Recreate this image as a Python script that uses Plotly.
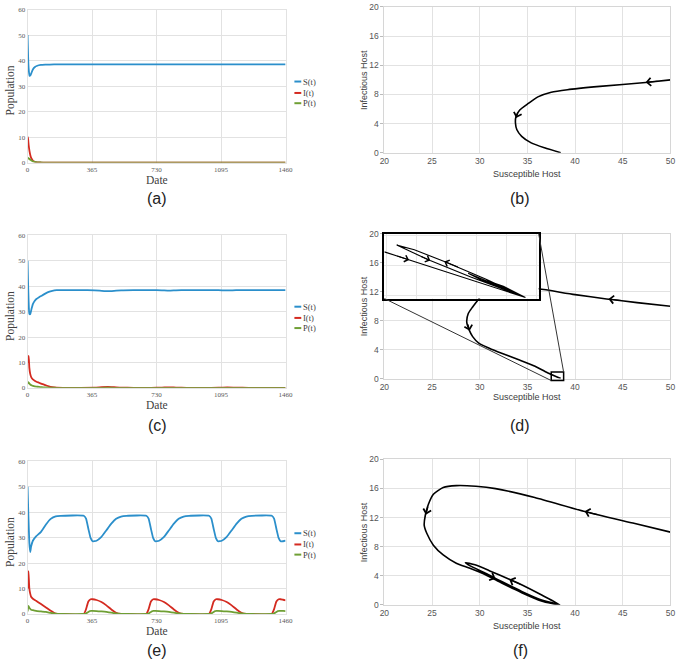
import plotly.graph_objects as go

W, H = 685, 665

# ---------------- data ----------------
series_names = ["S(t)", "I(t)", "P(t)"]
series_colors = ["#2b8fcb", "#d42a20", "#6f9f34"]
day_ticks = [0, 365, 730, 1095, 1460]

# (a)
t_a = [0, 3, 6, 11, 16, 22, 30, 40, 55, 75, 100, 150, 250, 1460]
S_a = [50, 42, 37, 34, 34.2, 35.2, 36.5, 37.4, 38.0, 38.3, 38.4, 38.5, 38.5, 38.5]
I_a = [10.2, 9.3, 7, 4.5, 2.8, 1.6, 0.8, 0.35, 0.1, 0.03, 0, 0, 0, 0]
P_a = [1.3, 1.8, 1.7, 1.4, 1.1, 0.8, 0.5, 0.3, 0.12, 0.04, 0, 0, 0, 0]

# (c)
t_c = [0, 3, 6, 10, 15, 22, 30, 40, 50, 65, 80, 100, 120, 140, 165, 200, 300, 380, 420, 455,
       490, 530, 600, 700, 760, 800, 840, 900, 1000, 1080, 1130, 1180, 1250, 1460]
S_c = [50, 41, 34, 29.2, 29, 31, 33, 34.2, 35, 35.7, 36.3, 37.1, 37.8, 38.2, 38.45, 38.5, 38.5, 38.4, 38.2, 38.05,
       38.2, 38.4, 38.5, 38.5, 38.4, 38.3, 38.4, 38.5, 38.5, 38.45, 38.35, 38.45, 38.5, 38.5]
I_c = [9.8, 12, 12.6, 8, 5.5, 4.0, 3.3, 2.8, 2.4, 2.0, 1.6, 1.1, 0.6, 0.3, 0.1, 0.02, 0, 0.05, 0.25, 0.35,
       0.25, 0.08, 0, 0, 0.1, 0.22, 0.12, 0.02, 0, 0.05, 0.15, 0.08, 0, 0]
P_c = [1.5, 2.2, 2.1, 1.7, 1.3, 1.0, 0.8, 0.6, 0.5, 0.38, 0.28, 0.18, 0.1, 0.05, 0.02, 0, 0, 0, 0.03, 0.05,
       0.03, 0, 0, 0, 0, 0.03, 0, 0, 0, 0, 0.02, 0, 0, 0]

# (e)
t_e = [0, 5, 10, 15, 20, 30, 48, 76, 104, 131, 159, 187,
       318, 331, 344, 357, 368, 390, 418, 446, 474, 501, 529, 560,
       672, 685, 698, 711, 722, 744, 772, 800, 828, 855, 883, 914,
       1027, 1040, 1053, 1066, 1077, 1099, 1127, 1155, 1183, 1210, 1238, 1269,
       1382, 1395, 1408, 1421, 1432, 1446, 1460]
S_e = [50, 38, 28, 24.3, 26.5, 28.8, 30.5, 32.3, 35.2, 37.4, 38.4, 38.6,
       38.6, 37.5, 33.5, 29.8, 28.6, 28.8, 30.3, 32.9, 35.5, 37.4, 38.3, 38.6,
       38.6, 37.5, 33.5, 29.8, 28.6, 28.8, 30.3, 32.9, 35.5, 37.4, 38.3, 38.6,
       38.6, 37.5, 33.5, 29.8, 28.6, 28.8, 30.3, 32.9, 35.5, 37.4, 38.3, 38.6,
       38.6, 37.5, 33.5, 29.8, 28.6, 28.6, 28.8]
I_e = [10, 16.8, 10, 8, 6.8, 6.0, 5.2, 3.9, 2.6, 1.3, 0.2, 0,
       0, 1.9, 4.9, 5.8, 5.8, 5.5, 4.7, 3.4, 1.8, 0.5, 0, 0,
       0, 1.9, 4.9, 5.8, 5.8, 5.5, 4.7, 3.4, 1.8, 0.5, 0, 0,
       0, 1.9, 4.9, 5.8, 5.8, 5.5, 4.7, 3.4, 1.8, 0.5, 0, 0,
       0, 1.9, 4.9, 5.8, 5.8, 5.6, 5.4]
P_e = [1.0, 3.2, 2.5, 2.0, 1.7, 1.5, 1.2, 1.0, 0.8, 0.45, 0.15, 0,
       0, 0.2, 0.8, 1.2, 1.2, 1.15, 1.0, 0.8, 0.5, 0.25, 0.08, 0,
       0, 0.2, 0.8, 1.2, 1.2, 1.15, 1.0, 0.8, 0.5, 0.25, 0.08, 0,
       0, 0.2, 0.8, 1.2, 1.2, 1.15, 1.0, 0.8, 0.5, 0.25, 0.08, 0,
       0, 0.2, 0.8, 1.2, 1.2, 1.2, 1.15]

# (b) phase portrait
S_b = [50, 47.4, 42.6, 39.2, 37.5, 36.1, 35.1, 34.2, 33.8, 33.75, 33.9, 34.4, 35.4, 36.8, 38.5]
I_b = [10, 9.64, 9.1, 8.65, 8.3, 7.66, 6.76, 5.86, 4.95, 4.05, 3.15, 2.25, 1.35, 0.68, 0]
arrows_b = [((48.8, 9.83), (47.4, 9.66)), ((34.05, 5.7), (33.82, 4.75))]

# (d) phase portrait
S_d = [50, 46.5, 43.3, 40, 36.2, 33.5, 31.5, 30.5, 29.9, 29.26, 28.8, 28.64, 28.9, 29.26, 29.9, 31,
       32.3, 34.1, 35.8, 37.1, 38.5]
I_d = [10, 10.5, 11.0, 11.6, 12.4, 12.8, 12.7, 12.0, 11.0, 9.9, 9.0, 7.8, 6.7, 5.8, 4.9, 4.2,
       3.5, 2.6, 1.7, 0.8, 0]
arrows_d = [((45.0, 10.76), (43.5, 11.0)), ((28.72, 7.7), (28.95, 6.6))]

# (d) inset: magnified approach to the equilibrium
S_in = [36.85, 37.4, 37.9, 38.45, 38.01, 37.53, 37.19, 36.99, 37.19, 37.37, 37.83, 38.2, 38.45,
        38.1, 37.8, 37.95, 38.2, 38.45, 38.2, 38.01, 38.12, 38.3, 38.45, 38.3, 38.23, 38.33, 38.45]
I_in = [0.444, 0.292, 0.153, 0.0, 0.175, 0.35, 0.465, 0.51, 0.43, 0.36, 0.2, 0.085, 0.0,
        0.13, 0.235, 0.17, 0.09, 0.0, 0.11, 0.165, 0.115, 0.045, 0.0, 0.065, 0.09, 0.05, 0.0]
arrows_in = [((36.98, 0.408), (37.13, 0.366)), ((37.25, 0.405), (37.37, 0.36)),
             ((37.7, 0.29), (37.53, 0.35))]
zoom_box = (37.5, 38.8, -0.27, 0.9)

# (f) phase portrait
S_f = [50, 46.06, 40.9, 35.77, 31.66, 29.6, 27.54, 26.17, 25.14, 24.63, 24.29, 24.18, 24.46, 25.14,
       26.17, 27.54, 28.9, 30.6, 32.3, 34.4, 36.46, 38.4,
       36.5, 34.5, 33.03, 31.0, 29.5, 28.5, 29.0, 30.6, 32.3, 34.4, 36.5, 38.4]
I_f = [10, 11.24, 12.87, 14.76, 15.98, 16.3, 16.39, 16.12, 15.2, 13.86, 12.28, 10.93, 9.8, 8.2,
       6.86, 5.73, 5.06, 4.15, 3.0, 1.67, 0.54, 0,
       1.35, 2.7, 3.55, 4.7, 5.5, 5.8, 5.35, 4.35, 3.2, 1.85, 0.65, 0]
arrows_f = [((42.5, 12.35), (41.0, 12.85)), ((24.62, 13.7), (24.35, 12.4)),
            ((30.6, 4.2), (31.66, 3.6)), ((34.4, 2.75), (33.1, 3.5))]

# ---------------- layout helpers ----------------
def px(x):
    return x / W

def py(y):
    return 1 - y / H

TS_X = (23, 286)
PH_X = (386.7, 678.3)
INSET_X = (386.7, 544)
INSET_Y = (232.3, 298)

SERIF = "Liberation Serif, Times New Roman, serif"
SANS_N = "Liberation Sans Narrow, Liberation Sans, Arial, sans-serif"
SANS = "Liberation Sans, Arial, sans-serif"

fig = go.Figure()
layout = dict(width=W, height=H, margin=dict(l=0, r=0, t=0, b=0),
              paper_bgcolor="white", plot_bgcolor="white", showlegend=False)
annotations = []
shapes = []

grid_c = "#e2e2e2"

ts_panels = [
    (1, t_a, S_a, I_a, P_a, (4.7, 160), [77.7, 89.3, 99.7], "(a)", 196),
    (3, t_c, S_c, I_c, P_c, (234, 388.7), [306.3, 317.7, 328], "(c)", 427),
    (5, t_e, S_e, I_e, P_e, (463.3, 618.3), [536.3, 547.7, 558], "(e)", 655),
]
for idx, t, S, I, P, (ytop, ybot), leg_y, lab, lab_y in ts_panels:
    xa = "x" if idx == 1 else f"x{idx}"
    ya = "y" if idx == 1 else f"y{idx}"
    for vals, name, col in zip([S, I, P], series_names, series_colors):
        fig.add_trace(go.Scatter(x=t, y=vals, mode="lines", name=name, xaxis=xa, yaxis=ya,
                                 line=dict(color=col, width=1.8), line_shape="spline",
                                 line_smoothing=0.4))
    kx = "xaxis" if idx == 1 else f"xaxis{idx}"
    ky = "yaxis" if idx == 1 else f"yaxis{idx}"
    layout[kx] = dict(domain=[px(TS_X[0]), px(TS_X[1])], anchor=ya, range=[0, 1460],
                      tickvals=day_ticks, showgrid=True, gridcolor=grid_c, zeroline=False,
                      showline=True, mirror=True, linecolor=grid_c, ticks="",
                      tickfont=dict(family=SERIF, size=7, color="#595959"))
    layout[ky] = dict(domain=[py(ybot), py(ytop)], anchor=xa, range=[0, 60], dtick=10,
                      showgrid=True, gridcolor=grid_c, zeroline=False,
                      showline=True, mirror=True, linecolor=grid_c, ticks="",
                      tickfont=dict(family=SERIF, size=7, color="#595959"))
    # legend
    for yy, name, col in zip(leg_y, series_names, series_colors):
        shapes.append(dict(type="line", xref="paper", yref="paper", x0=px(295), x1=px(302),
                           y0=py(yy), y1=py(yy), line=dict(color=col, width=2)))
        annotations.append(dict(xref="paper", yref="paper", x=px(302), y=py(yy), text=name,
                                showarrow=False, xanchor="left", yanchor="middle",
                                font=dict(family=SERIF, size=8.5, color="#404040")))
    # axis titles
    annotations.append(dict(xref="paper", yref="paper", x=px((TS_X[0] + TS_X[1]) / 2),
                            y=py(ybot + 17.5), text="Date", showarrow=False,
                            xanchor="center", yanchor="middle",
                            font=dict(family=SERIF, size=11.5, color="#404040")))
    annotations.append(dict(xref="paper", yref="paper", x=px(5.5), y=py((ytop + ybot) / 2 + 4),
                            text="Population", showarrow=False, textangle=-90,
                            xanchor="center", yanchor="middle",
                            font=dict(family=SERIF, size=11.5, color="#404040")))
    annotations.append(dict(xref="paper", yref="paper", x=px(155), y=py(lab_y), text=lab,
                            showarrow=False, xanchor="center", yanchor="middle",
                            font=dict(family=SANS, size=16, color="#222222")))

ph_panels = [
    (2, S_b, I_b, arrows_b, (2, 150), "(b)", 196, 172),
    (4, S_d, I_d, arrows_d, (232.3, 379.3), "(d)", 427, 398),
    (6, S_f, I_f, arrows_f, (461.3, 609), "(f)", 655, 630),
]
for idx, S, I, arrows, (ytop, ybot), lab, lab_y, title_y in ph_panels:
    xa, ya = f"x{idx}", f"y{idx}"
    fig.add_trace(go.Scatter(x=S, y=I, mode="lines", xaxis=xa, yaxis=ya,
                             line=dict(color="black", width=1.6), line_shape="spline",
                             line_smoothing=0.6))
    layout[f"xaxis{idx}"] = dict(domain=[px(PH_X[0]), px(PH_X[1])], anchor=ya, range=[20, 50],
                                 dtick=5, showgrid=True, gridcolor=grid_c, zeroline=False,
                                 showline=True, mirror=True, linecolor="#d6d6d6", ticks="",
                                 tickfont=dict(family=SANS_N, size=8.5, color="#555555"))
    layout[f"yaxis{idx}"] = dict(domain=[py(ybot), py(ytop)], anchor=xa, range=[0, 20],
                                 dtick=4, showgrid=True, gridcolor=grid_c, zeroline=False,
                                 showline=True, mirror=True, linecolor="#d6d6d6",
                                 ticks="outside", ticklen=3, tickcolor="#bbbbbb",
                                 tickfont=dict(family=SANS_N, size=8.5, color="#555555"))
    for (tx, ty), (hx, hy) in arrows:
        annotations.append(dict(xref=xa, yref=ya, axref=xa, ayref=ya, x=hx, y=hy, ax=tx, ay=ty,
                                text="", showarrow=True, arrowhead=4, arrowsize=1.3,
                                arrowwidth=1.2, arrowcolor="black", standoff=0))
    annotations.append(dict(xref="paper", yref="paper", x=px(532), y=py(title_y),
                            text="Susceptible Host", showarrow=False,
                            xanchor="center", yanchor="middle",
                            font=dict(family=SANS_N, size=9, color="#404040")))
    annotations.append(dict(xref="paper", yref="paper", x=px(366), y=py((ytop + ybot) / 2),
                            text="Infectious Host", showarrow=False, textangle=-90,
                            xanchor="center", yanchor="middle",
                            font=dict(family=SANS_N, size=9, color="#404040")))
    annotations.append(dict(xref="paper", yref="paper", x=px(525), y=py(lab_y), text=lab,
                            showarrow=False, xanchor="center", yanchor="middle",
                            font=dict(family=SANS, size=16, color="#222222")))

# inset of (d)
fig.add_trace(go.Scatter(x=S_in, y=I_in, mode="lines", xaxis="x7", yaxis="y7",
                         line=dict(color="black", width=1.1)))
layout["xaxis7"] = dict(domain=[px(INSET_X[0]), px(INSET_X[1])], anchor="y7",
                        range=[36.85, 38.6], dtick=0.34, tick0=36.87, showgrid=True,
                        gridcolor="#e6e6e6", zeroline=False, showticklabels=False,
                        showline=True, mirror=True, linecolor="black", linewidth=2, ticks="")
layout["yaxis7"] = dict(domain=[py(INSET_Y[1]), py(INSET_Y[0])], anchor="x7",
                        range=[-0.01, 0.62], dtick=0.29, tick0=0.02, showgrid=True,
                        gridcolor="#e6e6e6", zeroline=False, showticklabels=False,
                        showline=True, mirror=True, linecolor="black", linewidth=2, ticks="")
for (tx, ty), (hx, hy) in arrows_in:
    annotations.append(dict(xref="x7", yref="y7", axref="x7", ayref="y7", x=hx, y=hy, ax=tx, ay=ty,
                            text="", showarrow=True, arrowhead=4, arrowsize=1.2,
                            arrowwidth=1.1, arrowcolor="black", standoff=0))

# zoom box and connectors in (d), converted from data to paper coordinates
D_Y = (232.3, 379.3)

def d_paper(x, y):
    pxx = PH_X[0] + (x - 20) / 30 * (PH_X[1] - PH_X[0])
    pyy = D_Y[1] - y / 20 * (D_Y[1] - D_Y[0])
    return px(pxx), py(pyy)

bx0, by0 = d_paper(zoom_box[0], zoom_box[2])
bx1, by1 = d_paper(zoom_box[1], zoom_box[3])
shapes.append(dict(type="rect", xref="paper", yref="paper", x0=bx0, x1=bx1, y0=by0, y1=by1,
                   line=dict(color="black", width=1.5)))
shapes.append(dict(type="line", xref="paper", yref="paper", x0=px(INSET_X[1]), y0=py(INSET_Y[0]),
                   x1=bx1, y1=by1, line=dict(color="#333333", width=1)))
shapes.append(dict(type="line", xref="paper", yref="paper", x0=px(INSET_X[0]), y0=py(INSET_Y[1]),
                   x1=bx0, y1=by0, line=dict(color="#333333", width=1)))

layout["annotations"] = annotations
layout["shapes"] = shapes
fig.update_layout(**layout)
fig.write_html("out.html", config={"displayModeBar": False},
               post_script="document.body.style.margin='0';document.body.style.overflow='hidden';")
